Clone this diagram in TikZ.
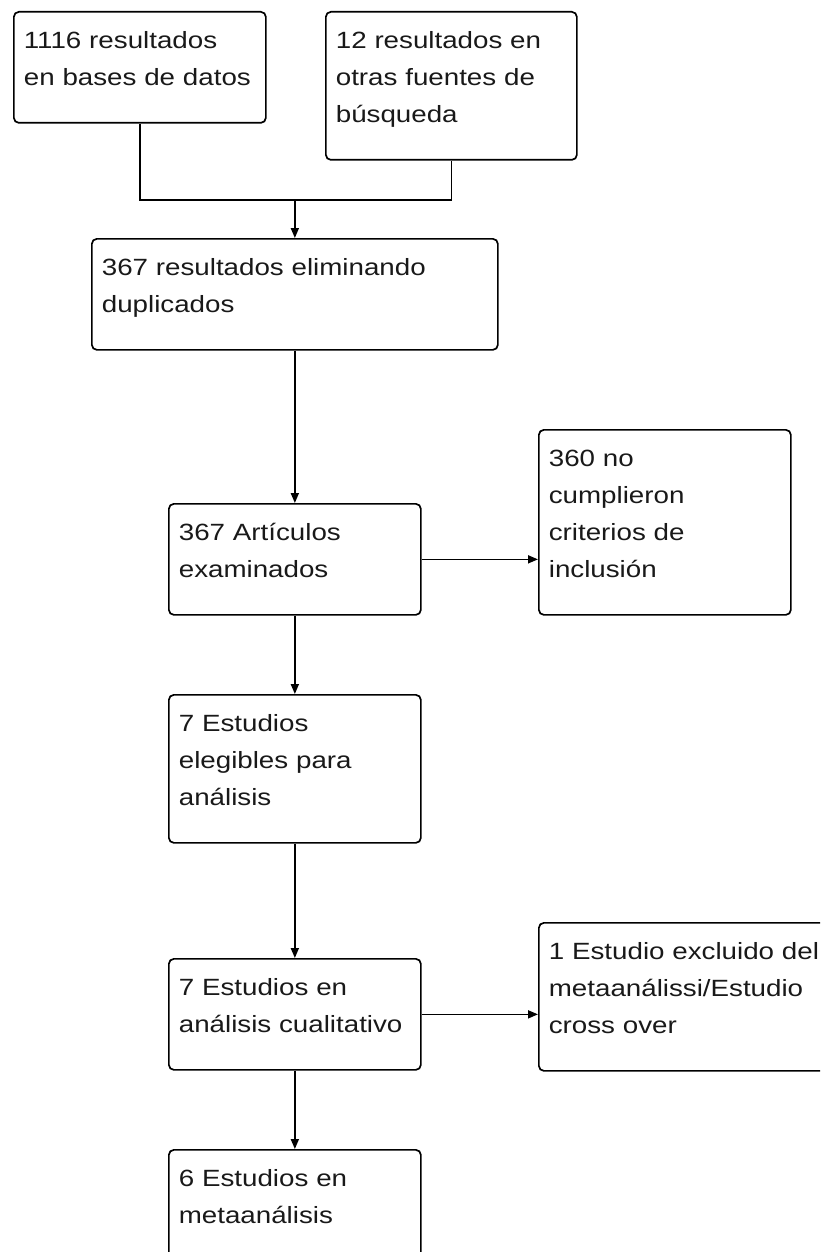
\documentclass[tikz,border=0pt]{standalone}
\usepackage{fontspec}
\setmainfont{Liberation Sans}[FakeStretch=1.18]
\usetikzlibrary{arrows.meta,positioning}
\newcommand{\boxlines}[1]{\rule{0pt}{37pt}#1\rule[-37pt]{0pt}{37pt}}
\begin{document}
\begin{tikzpicture}[x=1pt,y=-1pt,
  every node/.style={font=\fontsize{23.5}{37}\selectfont,text=black!90},
  flowbox/.style={draw,line width=1.7pt,rounded corners=5pt,anchor=north west,
    align=left,inner xsep=10pt,inner ysep=0pt,text width=232pt},
  link/.style={line width=1.7pt},
  arr/.style={line width=1.7pt,-{Triangle[length=10pt,width=8pt]}}]
\path[use as bounding box] (0,0) rectangle (820,1252);
\clip (0,0) rectangle (820,1252);
\node[flowbox] (A) at (13,11) {\boxlines{1116 resultados\\en bases de datos}};
\node[flowbox,text width=231pt] (B) at (325,11) {\boxlines{12 resultados en\\otras fuentes de\\búsqueda}};
\node[flowbox,text width=386pt] (C) at (91,238) {\boxlines{367 resultados eliminando\\duplicados}};
\node[flowbox] (D) at (168,503) {\boxlines{367 Artículos\\examinados}};
\node[flowbox] (E) at (538,429) {\boxlines{360 no\\cumplieron\\criterios de\\inclusión}};
\node[flowbox] (F) at (168,694) {\boxlines{7 Estudios\\elegibles para\\análisis}};
\node[flowbox] (G) at (168,958) {\boxlines{7 Estudios en\\análisis cualitativo}};
\node[flowbox,text width=290pt] (H) at (538,922) {\boxlines{1 Estudio excluido del\\metaanálissi/Estudio\\cross over}};
\node[flowbox] (I) at (168,1149) {\boxlines{6 Estudios en\\metaanálisis}};
\coordinate (mrg) at (C.north |- 0,200);
\draw[link] (A.south) |- (mrg) -| (B.south);
\draw[arr] (mrg) -- (C.north);
\draw[arr] (C.south) -- (D.north);
\draw[arr] (D.east) -- (D.east -| E.west);
\draw[arr] (D.south) -- (F.north);
\draw[arr] (F.south) -- (G.north);
\draw[arr] (G.east) -- (G.east -| H.west);
\draw[arr] (G.south) -- (I.north);
\end{tikzpicture}
\end{document}
